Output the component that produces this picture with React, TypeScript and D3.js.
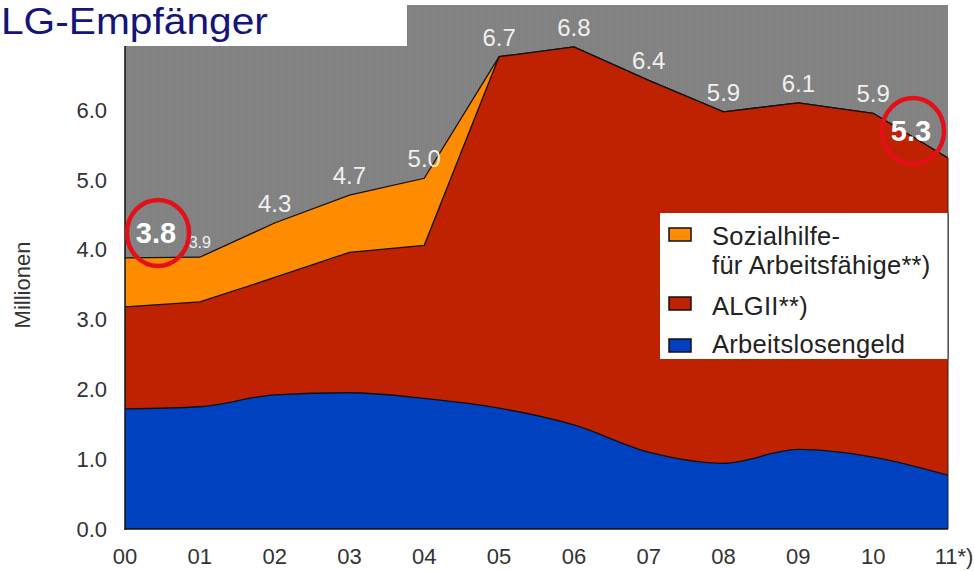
import React from "react";
import * as d3 from "d3";

// ---- data (Millionen) ----
const years = ["00", "01", "02", "03", "04", "05", "06", "07", "08", "09", "10", "11*)"];
const arbeitslosengeld = [1.72, 1.75, 1.92, 1.95, 1.87, 1.73, 1.49, 1.10, 0.94, 1.14, 1.03, 0.77];
const algII = [1.46, 1.50, 1.68, 2.01, 2.19, 5.03, 5.41, 5.32, 5.03, 4.96, 4.92, 4.54];
const sozialhilfe = [0.70, 0.64, 0.78, 0.82, 0.96, 0, 0, 0, 0, 0, 0, 0];
const totalLabels = ["3.8", "3.9", "4.3", "4.7", "5.0", "6.7", "6.8", "6.4", "5.9", "6.1", "5.9", "5.3"];
const highlighted = [0, 11];
const yTicks = [0, 1, 2, 3, 4, 5, 6];
const legendItems = [
  { lines: ["Sozialhilfe-", "für Arbeitsfähige**)"], color: "#ff8c00" },
  { lines: ["ALGII**)"], color: "#bf2200" },
  { lines: ["Arbeitslosengeld"], color: "#0041bf" },
];

const W = 975, H = 571;
const left = 125, right = 948, top = 5, bottom = 529;

export default function App() {
  const x = d3.scalePoint<string>().domain(years).range([left, right]);
  const y = d3.scaleLinear().domain([0, 7.5]).range([bottom, top]);

  const blueTop = arbeitslosengeld;
  const redTop = arbeitslosengeld.map((v, i) => v + algII[i]);
  const total = redTop.map((v, i) => v + sozialhilfe[i]);

  const areaOf = (vals: number[], curve: d3.CurveFactory) =>
    d3.area<number>().x((_, i) => x(years[i])!).y0(bottom).y1((d) => y(d)).curve(curve)(vals)!;
  const lineOf = (vals: number[], curve: d3.CurveFactory) =>
    d3.line<number>().x((_, i) => x(years[i])!).y((d) => y(d)).curve(curve)(vals)!;

  const fontFam = "'Liberation Sans', Arial, sans-serif";

  return (
    <svg width={W} height={H} style={{ position: "absolute", left: 0, top: 0, background: "#fff" }} fontFamily={fontFam}>
      <defs>
        <pattern id="grain" width="2" height="4" patternUnits="userSpaceOnUse">
          <rect width="2" height="4" fill="#808080" />
          <rect width="1" height="4" fill="#858585" />
        </pattern>
        <clipPath id="plotClip">
          <rect x={left} y={top} width={right - left} height={bottom - top} />
        </clipPath>
      </defs>

      {/* plot background */}
      <rect x={left} y={top} width={right - left} height={bottom - top} fill="url(#grain)" />

      <g clipPath="url(#plotClip)">
        <path d={areaOf(total, d3.curveLinear)} fill="#ff8c00" />
        <path d={lineOf(total, d3.curveLinear)} fill="none" stroke="#111" strokeWidth={1.3} />
        <path d={areaOf(redTop, d3.curveLinear)} fill="#bf2200" />
        <path d={lineOf(redTop, d3.curveLinear)} fill="none" stroke="#111" strokeWidth={1.3} />
        <path d={areaOf(blueTop, d3.curveMonotoneX)} fill="#0041bf" />
        <path d={lineOf(blueTop, d3.curveMonotoneX)} fill="none" stroke="#111" strokeWidth={1.3} />
      </g>

      {/* right edge */}
      <line x1={right} x2={right} y1={y(total[total.length - 1])} y2={bottom} stroke="#222" strokeWidth={1} />

      {/* title box */}
      <rect x={0} y={0} width={407} height={46} fill="#fff" />
      <text transform="translate(1,34) scale(1.1,1)" fontSize={37} fill="#14147a">LG-Empfänger</text>

      {/* axes */}
      <line x1={left} x2={left} y1={46} y2={bottom + 1} stroke="#111" strokeWidth={1.5} />
      <line x1={left} x2={right} y1={bottom} y2={bottom} stroke="#111" strokeWidth={1.5} />

      {yTicks.map((t) => (
        <text key={t} x={107} y={y(t)} dy="0.36em" textAnchor="end" fontSize={22} fill="#333">
          {t.toFixed(1)}
        </text>
      ))}
      {years.map((yr) => (
        <text key={yr} x={x(yr)! + (yr.length > 2 ? 6 : 0)} y={564} textAnchor="middle" fontSize={22} fill="#333">
          {yr}
        </text>
      ))}
      <text transform={`translate(30,285) rotate(-90)`} textAnchor="middle" fontSize={22} fill="#333">
        Millionen
      </text>

      {/* data labels */}
      {totalLabels.map((lab, i) => {
        if (highlighted.includes(i)) return null;
        const small = i === 1;
        return (
          <text
            key={i}
            x={x(years[i])!}
            y={y(total[i]) - (small ? 9 : 11)}
            textAnchor="middle"
            fontSize={small ? 16 : 24}
            fill="#f0f0f0"
          >
            {lab}
          </text>
        );
      })}
      {highlighted.map((i) => {
        const cx = i === 0 ? x(years[i])! + 33 : x(years[i])! - 35;
        const cy = y(total[i]) - (i === 0 ? 25 : 27);
        return (
          <g key={i}>
            <text x={cx - 2} y={cy} dy="0.36em" textAnchor="middle" fontSize={29} fontWeight="bold" fill="#fff">
              {totalLabels[i]}
            </text>
            <ellipse cx={cx} cy={cy} rx={31} ry={33} fill="none" stroke="#e3101a" strokeWidth={4.5} />
          </g>
        );
      })}

      {/* legend */}
      <rect x={660} y={213} width={288} height={146} fill="#fff" />
      {(() => {
        const rows = [
          { sy: 228, baselines: [245, 274] },
          { sy: 297, baselines: [315] },
          { sy: 339, baselines: [353] },
        ];
        return legendItems.map((it, k) => (
          <g key={k}>
            <rect x={669} y={rows[k].sy} width={22} height={13} fill={it.color} stroke="#111" strokeWidth={1.5} />
            {it.lines.map((ln, j) => (
              <text key={j} x={712} y={rows[k].baselines[j]} fontSize={25.5} fill="#222" letterSpacing={0.3}>
                {ln}
              </text>
            ))}
          </g>
        ));
      })()}
      <line x1={right} x2={right} y1={213} y2={359} stroke="#222" strokeWidth={1} />
    </svg>
  );
}
